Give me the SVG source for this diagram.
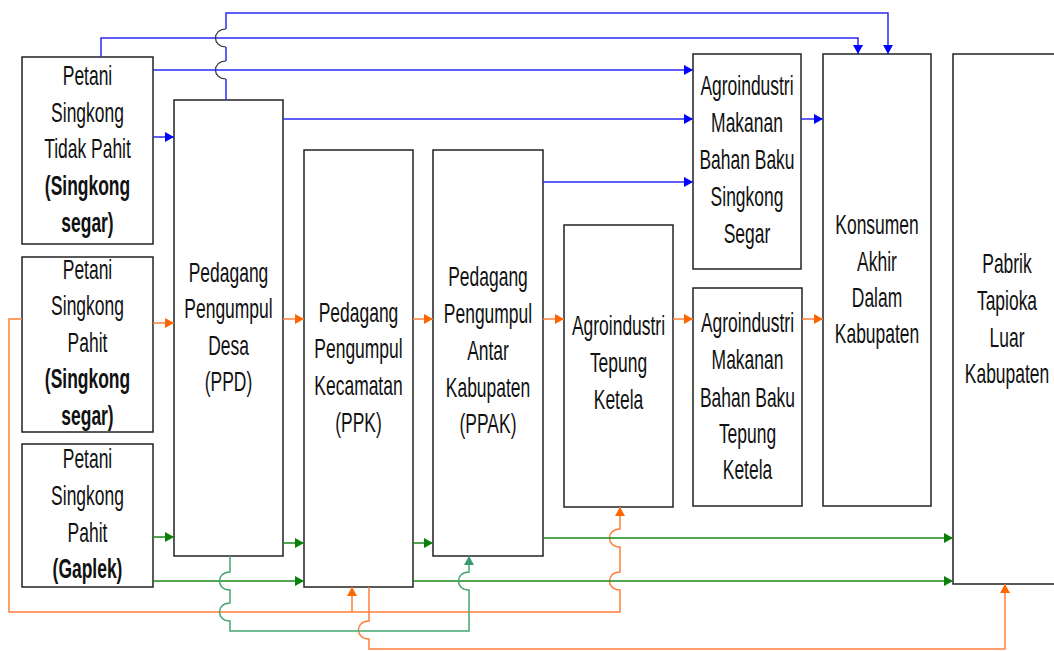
<svg xmlns="http://www.w3.org/2000/svg" width="1054" height="651" viewBox="0 0 1054 651">
<style>
.box{fill:#fff;stroke:#222;stroke-width:1.5}
.t{font-family:"Liberation Sans",Arial,sans-serif;font-size:27.5px;fill:#111;text-anchor:middle}
.bd{font-weight:bold}
.c{fill:none;stroke-width:1.5}
.b{stroke:#2a2af5}
.o{stroke:#ff7f3a}
.g{stroke:#1a8a1a}
.tl{stroke:#45a670}
.hop{fill:none;stroke:#333;stroke-width:1.2}
</style>
<defs>
<marker id="ab" viewBox="0 0 9 10" refX="9" refY="5" markerWidth="9" markerHeight="10" markerUnits="userSpaceOnUse" orient="auto"><path d="M0,0 L9,5 L0,10 z" fill="#0000ff"/></marker>
<marker id="ao" viewBox="0 0 9 10" refX="9" refY="5" markerWidth="9" markerHeight="10" markerUnits="userSpaceOnUse" orient="auto"><path d="M0,0 L9,5 L0,10 z" fill="#ff6600"/></marker>
<marker id="ag" viewBox="0 0 9 10" refX="9" refY="5" markerWidth="9" markerHeight="10" markerUnits="userSpaceOnUse" orient="auto"><path d="M0,0 L9,5 L0,10 z" fill="#0a800a"/></marker>
<marker id="at" viewBox="0 0 9 10" refX="9" refY="5" markerWidth="9" markerHeight="10" markerUnits="userSpaceOnUse" orient="auto"><path d="M0,0 L9,5 L0,10 z" fill="#3a9a6c"/></marker>
</defs>
<rect width="1054" height="651" fill="#fff"/>

<g id="n1"><rect class="box" x="22" y="57" width="131" height="187"/>
<text class="t" transform="translate(87.5,0) scale(0.635,1)"><tspan x="0" y="85">Petani</tspan><tspan x="0" y="122">Singkong</tspan><tspan x="0" y="158">Tidak Pahit</tspan><tspan class="bd" x="0" y="195">(Singkong</tspan><tspan class="bd" x="0" y="232">segar)</tspan></text></g>

<g id="n2"><rect class="box" x="22" y="257" width="131" height="175"/>
<text class="t" transform="translate(87.5,0) scale(0.635,1)"><tspan x="0" y="279">Petani</tspan><tspan x="0" y="315">Singkong</tspan><tspan x="0" y="352">Pahit</tspan><tspan class="bd" x="0" y="388">(Singkong</tspan><tspan class="bd" x="0" y="425">segar)</tspan></text></g>

<g id="n3"><rect class="box" x="22" y="444" width="131" height="143"/>
<text class="t" transform="translate(87.5,0) scale(0.635,1)"><tspan x="0" y="468">Petani</tspan><tspan x="0" y="505">Singkong</tspan><tspan x="0" y="542">Pahit</tspan><tspan class="bd" x="0" y="578">(Gaplek)</tspan></text></g>

<g id="n4"><rect class="box" x="174" y="100" width="109" height="456"/>
<text class="t" transform="translate(228.5,0) scale(0.635,1)"><tspan x="0" y="282">Pedagang</tspan><tspan x="0" y="318">Pengumpul</tspan><tspan x="0" y="355">Desa</tspan><tspan x="0" y="391">(PPD)</tspan></text></g>

<g id="n5"><rect class="box" x="304" y="150" width="109" height="437"/>
<text class="t" transform="translate(358.5,0) scale(0.635,1)"><tspan x="0" y="322">Pedagang</tspan><tspan x="0" y="358">Pengumpul</tspan><tspan x="0" y="395">Kecamatan</tspan><tspan x="0" y="432">(PPK)</tspan></text></g>

<g id="n6"><rect class="box" x="433" y="150" width="110" height="406"/>
<text class="t" transform="translate(488,0) scale(0.635,1)"><tspan x="0" y="286">Pedagang</tspan><tspan x="0" y="323">Pengumpul</tspan><tspan x="0" y="360">Antar</tspan><tspan x="0" y="397">Kabupaten</tspan><tspan x="0" y="433">(PPAK)</tspan></text></g>

<g id="n7"><rect class="box" x="564" y="225" width="109" height="282"/>
<text class="t" transform="translate(618.5,0) scale(0.635,1)"><tspan x="0" y="335">Agroindustri</tspan><tspan x="0" y="372">Tepung</tspan><tspan x="0" y="409">Ketela</tspan></text></g>

<g id="n8"><rect class="box" x="693" y="54" width="108" height="215"/>
<text class="t" transform="translate(747,0) scale(0.635,1)"><tspan x="0" y="95">Agroindustri</tspan><tspan x="0" y="132">Makanan</tspan><tspan x="0" y="169">Bahan Baku</tspan><tspan x="0" y="206">Singkong</tspan><tspan x="0" y="243">Segar</tspan></text></g>

<g id="n9"><rect class="box" x="693" y="288" width="109" height="218"/>
<text class="t" transform="translate(747.5,0) scale(0.635,1)"><tspan x="0" y="332">Agroindustri</tspan><tspan x="0" y="369">Makanan</tspan><tspan x="0" y="407">Bahan Baku</tspan><tspan x="0" y="443">Tepung</tspan><tspan x="0" y="479">Ketela</tspan></text></g>

<g id="n10"><rect class="box" x="823" y="54" width="108" height="452"/>
<text class="t" transform="translate(877,0) scale(0.635,1)"><tspan x="0" y="234">Konsumen</tspan><tspan x="0" y="271">Akhir</tspan><tspan x="0" y="307">Dalam</tspan><tspan x="0" y="343">Kabupaten</tspan></text></g>

<g id="n11"><rect class="box" x="953" y="54" width="110" height="530"/>
<text class="t" transform="translate(1007,0) scale(0.635,1)"><tspan x="0" y="273">Pabrik</tspan><tspan x="0" y="310">Tapioka</tspan><tspan x="0" y="347">Luar</tspan><tspan x="0" y="383">Kabupaten</tspan></text></g>

<g id="connectors">
<path class="c b" d="M101,57 V38 H858 V54" marker-end="url(#ab)"/>
<path class="c b" d="M226,100 V79 M226,61 V47 M226,29 V13 H888 V54" marker-end="url(#ab)"/>
<path class="hop" d="M226,79 C212,79 212,61 226,61 M226,47 C212,47 212,29 226,29"/>
<path class="c b" d="M153,70 H693" marker-end="url(#ab)"/>
<path class="c b" d="M153,137 H174" marker-end="url(#ab)"/>
<path class="c b" d="M283,119 H693" marker-end="url(#ab)"/>
<path class="c b" d="M543,182 H693" marker-end="url(#ab)"/>
<path class="c b" d="M801,119 H823" marker-end="url(#ab)"/>

<path class="c o" d="M153,323 H174" marker-end="url(#ao)"/>
<path class="c o" d="M283,319 H304" marker-end="url(#ao)"/>
<path class="c o" d="M413,319 H433" marker-end="url(#ao)"/>
<path class="c o" d="M543,319 H564" marker-end="url(#ao)"/>
<path class="c o" d="M673,319 H693" marker-end="url(#ao)"/>
<path class="c o" d="M802,319 H823" marker-end="url(#ao)"/>
<path class="c o" d="M22,319 H9 V612 H620 V590 C606,590 606,572 620,572 V547 C606,547 606,529 620,529 V507" marker-end="url(#ao)"/>
<path class="c o" d="M352,612 V587" marker-end="url(#ao)"/>
<path class="c o" d="M369,587 V621 C355,621 355,639 369,639 V649 H1005 V584" marker-end="url(#ao)"/>

<path class="c g" d="M153,537 H174" marker-end="url(#ag)"/>
<path class="c g" d="M283,543 H304" marker-end="url(#ag)"/>
<path class="c g" d="M413,543 H433" marker-end="url(#ag)"/>
<path class="c g" d="M153,581 H304" marker-end="url(#ag)"/>
<path class="c g" d="M413,581 H953" marker-end="url(#ag)"/>
<path class="c g" d="M543,538 H953" marker-end="url(#ag)"/>
<path class="c tl" d="M230,556 V572 C216,572 216,590 230,590 V603 C216,603 216,621 230,621 V631 H469 V590 C455,590 455,572 469,572 V556" marker-end="url(#at)"/>
</g>
</svg>
